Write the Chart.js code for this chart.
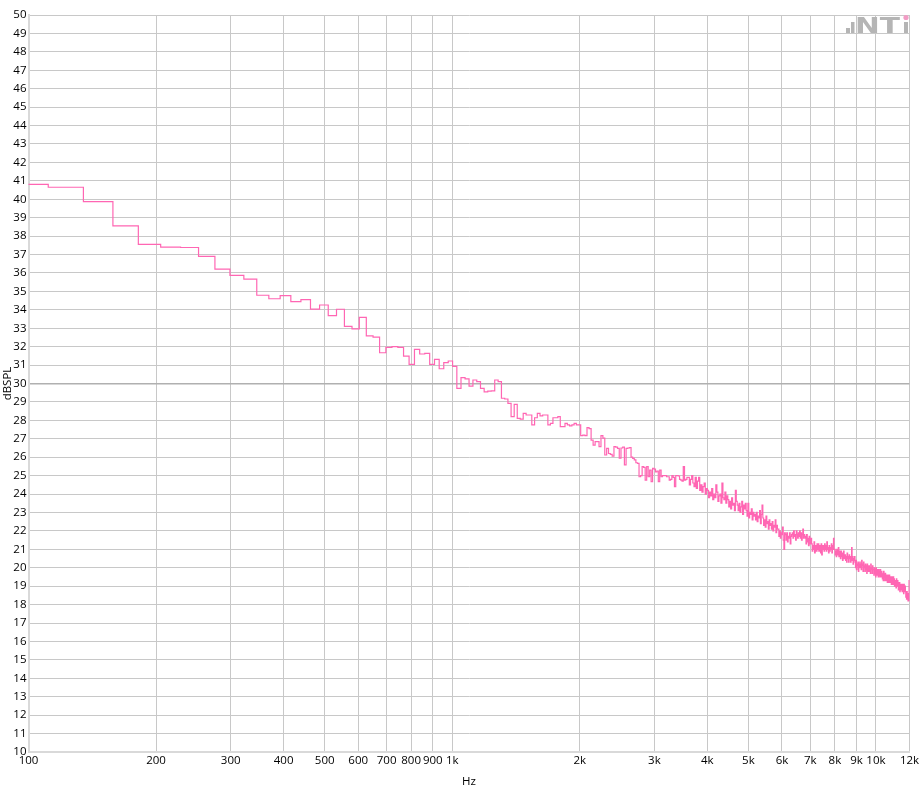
<!DOCTYPE html>
<html>
<head>
<meta charset="utf-8">
<script src="https://cdn.jsdelivr.net/npm/chart.js@4.4.1/dist/chart.umd.min.js"></script>
<style>
  html, body { margin: 0; padding: 0; background: #fff; }
  #wrap { width: 924px; height: 792px; }
</style>
</head>
<body>
<div id="wrap"><canvas id="spl" width="924" height="792"></canvas></div>
<script>
// --- DATA ---
// FFT bin grid of the analyser: each level holds from its bin edge to the next one
const binWidthHz = 23.4375;
const firstBin = 3;
const endHz = 12000;

// bins 3..82 (clear steps)
const levelsLow = [
  40.81, 40.65, 39.87, 38.55, 37.55, 37.40, 37.38, 36.90, 36.21, 35.87,
  35.66, 34.79, 34.60, 34.77, 34.44, 34.55, 34.04, 34.26, 33.68, 34.03,
  33.10, 32.96, 33.59, 32.58, 32.52, 31.67, 31.96, 32.00, 31.96, 31.49,
  31.04, 31.85, 31.60, 31.64, 31.04, 31.31, 30.80, 31.13, 31.22, 30.93,
  29.74, 30.32, 30.25, 29.86, 30.19, 30.10, 29.74, 29.55, 29.59, 29.60,
  30.19, 30.10, 29.20, 29.16, 28.92, 28.20, 28.87, 28.11, 28.07, 28.38,
  28.29, 28.29, 27.75, 28.14, 28.38, 28.24, 28.29, 28.29, 27.75, 27.84,
  28.14, 28.14, 28.20, 27.66, 27.66, 27.84, 27.75, 27.70, 27.75, 27.84
];
// bins 83..152 (2k - 3.5k)
const levelsMid = [
  27.75, 27.75, 27.17, 27.20, 27.17, 27.60, 27.55, 26.93, 26.66, 26.84,
  26.84, 26.57, 27.17, 27.03, 26.12, 26.48, 26.20, 26.15, 26.06, 26.57,
  26.55, 26.48, 25.95, 26.50, 26.55, 25.58, 26.48, 26.50, 26.52, 26.00,
  25.94, 25.85, 25.70, 25.67, 24.94, 25.00, 25.49, 25.45, 24.76, 25.49,
  24.94, 25.30, 24.67, 25.40, 25.35, 25.20, 25.25, 24.67, 25.30, 24.94,
  25.00, 25.00, 25.00, 24.94, 24.94, 24.76, 24.80, 25.00, 24.90, 24.40,
  25.00, 25.00, 24.98, 24.80, 24.76, 24.70, 25.49, 24.76, 24.80, 24.90
];
// bins 153..511 (dense part, 3.5k - 12k)
const levelsHigh = [
  24.9, 24.5, 24.8, 25.0, 24.6, 24.4, 24.9,
  24.3, 24.7, 24.9, 24.2, 24.5, 24.1, 24.4, 24.6, 24.0, 24.3,
  24.2, 23.8, 24.1, 23.9, 24.3, 23.7, 24.0, 23.8, 24.5, 24.1,
  23.6, 23.9, 24.0, 23.5, 24.6, 23.8, 23.7, 24.1, 23.5, 23.9,
  23.7, 23.3, 23.6, 23.2, 23.8, 23.4, 23.5, 23.1, 24.2, 23.6,
  23.4, 23.1, 23.5, 23.0, 23.3, 23.6, 22.9, 23.4, 23.2, 23.5,
  23.1, 22.8, 23.5, 22.7, 23.0, 22.9, 23.2, 22.6, 23.0, 22.8,
  22.9, 22.6, 23.0, 22.5, 22.8, 22.7, 23.1, 22.4, 22.9, 23.4,
  22.7, 22.3, 22.6, 22.2, 22.8, 22.4, 22.5, 22.1, 22.6, 22.3,
  22.4, 22.1, 22.5, 22.0, 22.3, 22.2, 22.6, 21.9, 22.3, 22.1,
  22.1, 21.7, 22.0, 21.6, 21.9, 21.8, 22.2, 21.5, 21.0, 21.9,
  21.8, 21.5, 21.9, 21.4, 21.7, 21.6, 21.9, 21.3, 21.7, 21.8,
  21.9, 21.6, 22.0, 21.7, 21.8, 21.5, 22.0, 21.8, 21.6, 21.9,
  21.7, 22.0, 21.6, 21.9, 21.5, 21.8, 22.1, 21.6, 21.8, 21.7,
  21.6, 21.3, 21.8, 21.4, 21.6, 21.2, 21.7, 21.5, 21.3, 21.6,
  21.3, 20.9, 21.2, 21.0, 21.4, 20.8, 21.2, 21.1, 20.9, 21.3,
  21.0, 21.3, 20.9, 21.2, 21.1, 20.8, 21.3, 20.7, 21.2, 21.0,
  21.2, 20.9, 21.3, 21.0, 21.2, 20.9, 21.4, 21.0, 21.1, 20.8,
  21.2, 20.9, 21.1, 21.0, 21.3, 20.8, 21.2, 21.0, 21.6, 21.0,
  21.0, 20.7, 20.9, 20.6, 21.0, 20.8, 20.7, 21.1, 20.6, 20.9,
  20.8, 20.5, 20.9, 20.6, 20.8, 20.4, 20.7, 20.9, 20.5, 20.7,
  20.7, 20.4, 20.6, 20.3, 20.8, 20.5, 20.6, 20.3, 20.7, 20.5,
  20.6, 20.3, 20.5, 21.1, 20.4, 20.6, 20.2, 20.5, 20.4, 20.6,
  20.3, 20.0, 20.4, 19.9, 20.2, 20.1, 20.3, 19.8, 20.2, 20.0,
  20.3, 20.0, 20.2, 19.9, 20.4, 20.1, 20.2, 19.8, 20.3, 20.0,
  20.1, 19.8, 20.2, 19.9, 20.1, 19.7, 20.2, 20.0, 19.8, 20.1,
  20.1, 19.8, 20.0, 19.7, 20.2, 19.9, 20.0, 19.7, 20.1, 19.9,
  19.9, 19.6, 20.0, 19.7, 19.9, 19.5, 20.0, 19.8, 19.6, 19.9,
  19.8, 19.5, 19.9, 19.6, 19.8, 19.5, 19.9, 19.7, 19.5, 19.8,
  19.7, 19.4, 19.6, 19.3, 19.8, 19.5, 19.6, 19.3, 19.7, 19.5,
  19.6, 19.3, 19.5, 19.2, 19.6, 19.4, 19.5, 19.2, 19.6, 19.4,
  19.5, 19.2, 19.4, 19.1, 19.5, 19.3, 19.4, 19.1, 19.5, 19.3,
  19.4, 19.0, 19.3, 19.1, 19.3, 18.9, 19.4, 19.2, 19.0, 19.3,
  19.2, 18.8, 19.1, 18.9, 19.2, 18.7, 19.1, 19.0, 18.8, 19.1,
  19.0, 18.7, 19.1, 18.8, 19.0, 18.6, 19.1, 18.9, 18.7, 19.0,
  18.7, 18.4, 18.6, 18.3, 18.7, 18.4, 18.5, 18.2, 18.6, 18.3, 19.3, 18.2
];

const xTickHz = [100, 200, 300, 400, 500, 600, 700, 800, 900,
                 1000, 2000, 3000, 4000, 5000, 6000, 7000, 8000, 9000, 10000, 12000];
const xTickLabels = ['100', '200', '300', '400', '500', '600', '700', '800', '900',
                     '1k', '2k', '3k', '4k', '5k', '6k', '7k', '8k', '9k', '10k', '12k'];

const FONT = '"Open Sans", "Noto Sans", sans-serif';
const FONT_SIZE = 11.5;

// build the step points
const levels = levelsLow.concat(levelsMid, levelsHigh);
const points = levels.map((v, i) => ({ x: (firstBin + i + 0.75) * binWidthHz, y: v }));
points.push({ x: endHz, y: levels[levels.length - 1] });

// small NTi mark top right
const ntiLogo = {
  id: 'ntiLogo',
  afterDraw(chart) {
    const c = chart.ctx;
    c.save();
    c.fillStyle = '#b5b5b5';
    c.fillRect(846, 28, 4, 5);
    c.fillRect(851, 22, 3.5, 11);
    c.font = 'bold 22px "DejaVu Sans"';
    c.textBaseline = 'alphabetic';
    const w = c.measureText('NT').width;
    c.save();
    c.translate(855, 33);
    c.scale(45 / w, 1);
    c.fillText('NT', 0, 0);
    c.restore();
    c.fillRect(904, 22, 4, 11);
    c.fillStyle = '#f29cc5';
    c.beginPath();
    c.arc(906, 17.5, 2.6, 0, Math.PI * 2);
    c.fill();
    c.restore();
  }
};

new Chart(document.getElementById('spl'), {
  type: 'line',
  data: {
    datasets: [{
      data: points,
      stepped: true,
      borderColor: '#ff66b3',
      borderWidth: 1.2,
      pointRadius: 0,
      fill: false
    }]
  },
  options: {
    responsive: false,
    animation: false,
    layout: { padding: { top: 15, right: 14.5, left: 0, bottom: 0 } },
    plugins: { legend: { display: false }, tooltip: { enabled: false } },
    scales: {
      x: {
        type: 'logarithmic',
        min: 100,
        max: 12000,
        afterBuildTicks: (scale) => { scale.ticks = xTickHz.map(v => ({ value: v })); },
        afterFit: (scale) => { scale.height = 40; },
        ticks: {
          autoSkip: false,
          maxRotation: 0,
          padding: 2,
          color: '#000',
          font: { family: FONT, size: FONT_SIZE },
          callback: (v, i) => xTickLabels[i]
        },
        grid: { color: '#c8c8c8', lineWidth: 1, drawTicks: false },
        border: { color: '#d9d9d9', width: 2 },
        title: { display: true, text: 'Hz', color: '#000', font: { family: FONT, size: FONT_SIZE }, padding: { top: 0, bottom: 3 } }
      },
      y: {
        min: 10,
        max: 50,
        afterFit: (scale) => { scale.width = 28.5; },
        ticks: {
          stepSize: 1,
          padding: 2,
          color: '#000',
          font: { family: FONT, size: FONT_SIZE }
        },
        grid: {
          color: (ctx) => (ctx.tick && ctx.tick.value === 30 ? '#b0b0b0' : '#c8c8c8'),
          lineWidth: (ctx) => (ctx.tick && ctx.tick.value === 30 ? 1.5 : 1),
          drawTicks: false
        },
        border: { color: '#d9d9d9', width: 2 },
        title: { display: true, text: 'dBSPL', color: '#000', font: { family: FONT, size: FONT_SIZE }, padding: { top: 1, bottom: 0 } }
      }
    }
  },
  plugins: [ntiLogo]
});
</script>
</body>
</html>
